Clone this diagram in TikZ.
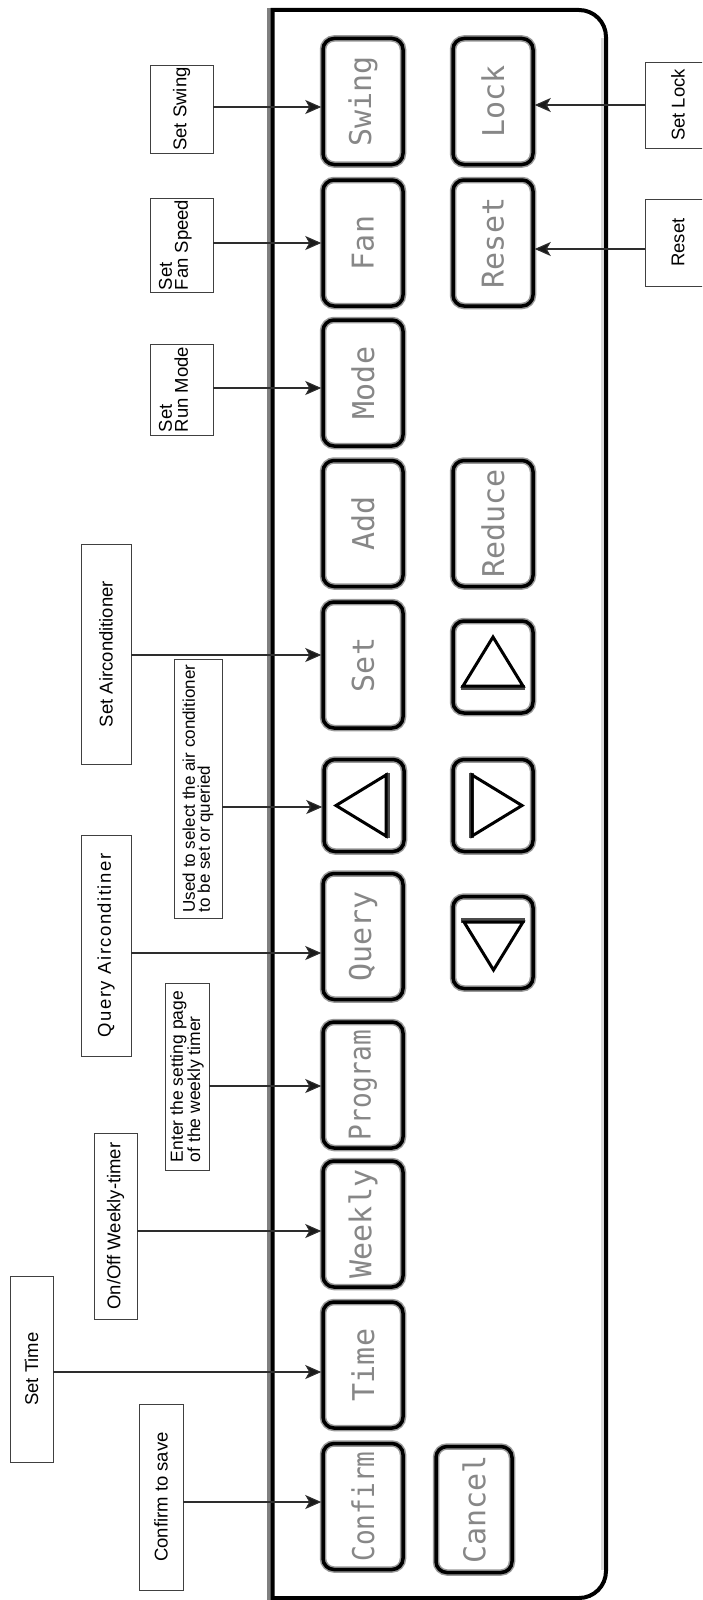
\documentclass[tikz,border=0pt]{standalone}
\usepackage{fontspec}
\setmainfont{Liberation Sans}
\newfontfamily\btnfont{DejaVu Sans Mono}
\usepackage{graphicx}
\usetikzlibrary{arrows.meta}
\definecolor{btngray}{RGB}{135,135,135}
\definecolor{linegray}{RGB}{45,45,45}
\begin{document}
\begin{tikzpicture}[x=1pt,y=-1pt,
  btn/.style={rotate=90, draw=black, line width=3.5pt, rounded corners=11pt,
    preaction={draw=black!40, line width=6.5pt},
    inner sep=0pt, minimum width=126pt, minimum height=80pt,
    font=\btnfont\fontsize{30}{30}\selectfont, text=btngray},
  tbtn/.style={btn, minimum width=92pt},
  lbl/.style={rotate=90, draw=black!75, line width=0.9pt, fill=white,
    inner sep=0pt, align=left, font=\fontsize{18.5}{16}\selectfont},
  arr/.style={draw=linegray, line width=1.1pt,
    -{Stealth[length=16pt,width=14pt,inset=4pt,fill=black!90]}},
  tri/.style={draw=black, line width=3pt, line join=miter},
  triband/.style={draw=black!70, line width=5pt}
]
\useasboundingbox (0,0) rectangle (702,1600);
\clip (0,0) rectangle (702,1600);
\fill[white] (0,0) rectangle (702,1600);

% panel
\draw[line width=4pt, black!50] (268.5,8) -- (268.5,1600);
\draw[line width=3pt, black!15] (602,38) -- (602,1570);
\draw[line width=4pt] (272.5,10) -- (400,10) [rounded corners=27pt] -- (606,10) -- (606,1598) -- (400,1598) [sharp corners] -- (272.5,1598) -- cycle;

% buttons
\node[btn] (swing) at (363,101.5) {Swing};
\node[btn] (lock) at (493,101.5) {Lock};
\node[btn] (fan) at (363,243) {Fan};
\node[btn] (reset) at (493,243) {Reset};
\node[btn] (mode) at (363,383) {Mode};
\node[btn] (add) at (363,523.5) {Add};
\node[btn] (reduce) at (493,523.5) {Reduce};
\node[btn] (set) at (363,665) {Set};
\node[tbtn] (up) at (493,667) {};
\node[tbtn] (lt) at (364,805.5) {};
\node[tbtn] (rt) at (493,805.5) {};
\node[btn] (query) at (363,936.5) {Query};
\node[tbtn] (dn) at (493,942.5) {};
\node[btn] (program) at (363,1085) {\scalebox{0.87}[1]{Program}};
\node[btn] (weekly) at (363,1224) {Weekly};
\node[btn] (time) at (363,1365) {Time};
\node[btn] (confirm) at (363,1506.5) {\scalebox{0.87}[1]{Confirm}};
\node[btn, minimum height=76pt] (cancel) at (474,1509.5) {Cancel};

% triangle glyphs
\draw[triband] (461,687) -- (525,687);
\draw[tri] (493,637) -- (523,686) -- (463,686) -- cycle;
\draw[triband] (387,773) -- (387,838);
\draw[tri] (336,805.5) -- (386,775) -- (386,836) -- cycle;
\draw[triband] (471,773) -- (471,838);
\draw[tri] (472,775) -- (522,805.5) -- (472,836) -- cycle;
\draw[triband] (461,920) -- (525,920);
\draw[tri] (464,922) -- (523,922) -- (493.5,970) -- cycle;

% labels
\node[lbl, minimum width=88pt, minimum height=63pt] (swingL) at (181.5,109) {Set Swing};
\node[lbl, minimum width=94pt, minimum height=63pt] (fanL) at (181.5,245) {Set\\Fan Speed\\\mbox{}};
\node[lbl, minimum width=91pt, minimum height=63pt] (modeL) at (181.5,389.5) {Set\\Run Mode\\\mbox{}};
\node[lbl, minimum width=86pt, minimum height=66pt] (lockL) at (678,105) {Set Lock};
\node[lbl, minimum width=87pt, minimum height=66pt] (resetL) at (678,242.5) {Reset};
\node[lbl, minimum width=220pt, minimum height=50pt] (setairL) at (106,654) {Set Airconditioner};
\node[lbl, minimum width=259pt, minimum height=48pt, font=\fontsize{17}{15}\selectfont] (usedL) at (198,788.5) {Used to select the air conditioner\\to be set or queried};
\node[lbl, minimum width=221pt, minimum height=50pt] (queryL) at (106,945.5) {\addfontfeature{LetterSpace=8}Query Airconditiner};
\node[lbl, minimum width=187pt, minimum height=44pt, font=\fontsize{17.5}{15.5}\selectfont] (enterL) at (187,1076.5) {Enter the setting page\\of the weekly timer};
\node[lbl, minimum width=186pt, minimum height=43pt] (onoffL) at (115.5,1226) {On/Off Weekly-timer};
\node[lbl, minimum width=186pt, minimum height=43pt] (timeL) at (31.5,1369) {Set Time};
\node[lbl, minimum width=186pt, minimum height=44pt] (confirmL) at (161,1497) {Confirm to save};

% connectors
\draw[arr] (swingL.south |- 0,107) -- (swing.north |- 0,107);
\draw[arr] (fanL.south |- 0,243) -- (fan.north |- 0,243);
\draw[arr] (modeL.south |- 0,388) -- (mode.north |- 0,388);
\draw[arr] (setairL.south |- 0,655) -- (set.north |- 0,655);
\draw[arr] (usedL.south |- 0,807) -- (lt.north |- 0,807);
\draw[arr] (queryL.south |- 0,953) -- (query.north |- 0,953);
\draw[arr] (enterL.south |- 0,1086) -- (program.north |- 0,1086);
\draw[arr] (onoffL.south |- 0,1231) -- (weekly.north |- 0,1231);
\draw[arr] (timeL.south |- 0,1372) -- (time.north |- 0,1372);
\draw[arr] (confirmL.south |- 0,1502) -- (confirm.north |- 0,1502);
\draw[arr] (lockL.north |- 0,105) -- (lock.south |- 0,105);
\draw[arr] (resetL.north |- 0,249) -- (reset.south |- 0,249);
\end{tikzpicture}
\end{document}
